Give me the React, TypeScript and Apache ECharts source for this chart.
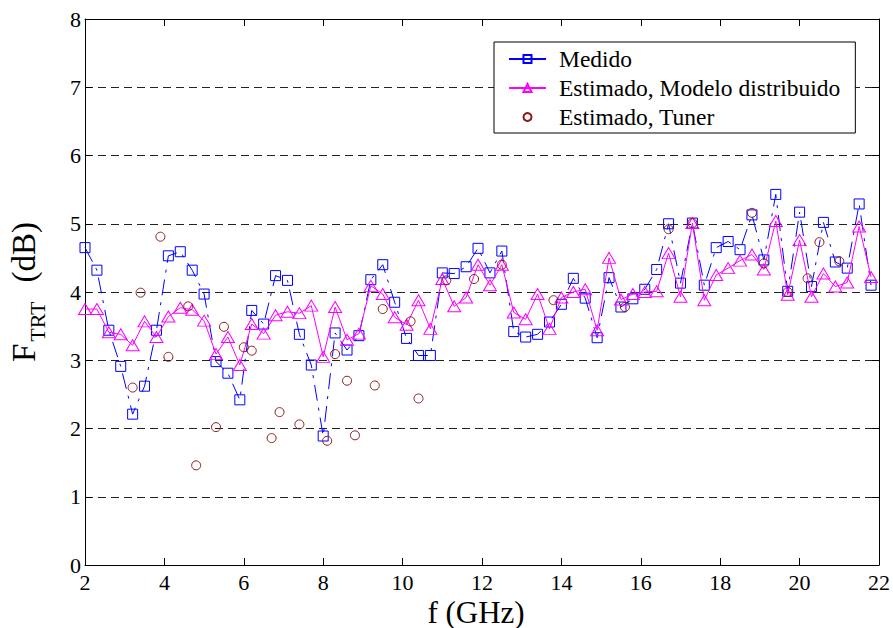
import React, { useEffect, useRef } from "react";
import * as echarts from "echarts";

// Frequency points (GHz) shared by the measured and distributed-model curves
const freqs = [
  2.0, 2.3, 2.6, 2.9, 3.2, 3.5, 3.8, 4.1, 4.4, 4.7,
  5.0, 5.3, 5.6, 5.9, 6.2, 6.5, 6.8, 7.1, 7.4, 7.7,
  8.0, 8.3, 8.6, 8.9, 9.2, 9.5, 9.8, 10.1, 10.4, 10.7,
  11.0, 11.3, 11.6, 11.9, 12.2, 12.5, 12.8, 13.1, 13.4, 13.7,
  14.0, 14.3, 14.6, 14.9, 15.2, 15.5, 15.8, 16.1, 16.4, 16.7,
  17.0, 17.3, 17.6, 17.9, 18.2, 18.5, 18.8, 19.1, 19.4, 19.7,
  20.0, 20.3, 20.6, 20.9, 21.2, 21.5, 21.8,
];

// Measured noise figure (dB)
const medido = [
  4.65, 4.32, 3.44, 2.91, 2.21, 2.62, 3.44, 4.53, 4.59, 4.32,
  3.97, 2.98, 2.81, 2.42, 3.73, 3.53, 4.24, 4.17, 3.38, 2.93,
  1.89, 3.40, 3.15, 3.36, 4.18, 4.40, 3.85, 3.32, 3.07, 3.07,
  4.28, 4.27, 4.37, 4.64, 4.28, 4.60, 3.42, 3.34, 3.38, 3.56,
  3.82, 4.20, 3.91, 3.33, 4.21, 3.78, 3.90, 4.04, 4.33, 5.00,
  4.13, 5.01, 4.10, 4.65, 4.74, 4.62, 5.13, 4.47, 5.43, 4.01,
  5.17, 4.08, 5.02, 4.44, 4.35, 5.29, 4.10,
];

// Estimated with the distributed model (dB)
const modelo = [
  3.75, 3.75, 3.41, 3.38, 3.22, 3.57, 3.34, 3.64, 3.77, 3.74,
  3.58, 3.09, 3.34, 2.93, 3.53, 3.39, 3.66, 3.71, 3.69, 3.80,
  3.05, 3.78, 3.30, 3.39, 4.09, 3.97, 3.63, 3.52, 3.88, 3.46,
  4.19, 3.79, 3.92, 4.40, 4.10, 4.40, 3.70, 3.60, 3.97, 3.46,
  3.92, 4.00, 4.04, 3.44, 4.50, 3.89, 3.97, 4.00, 4.01, 4.57,
  3.93, 5.01, 3.88, 4.25, 4.35, 4.46, 4.55, 4.33, 5.04, 3.96,
  4.76, 3.93, 4.27, 4.08, 4.14, 4.96, 4.22,
];

// Estimated with the tuner: frequencies (GHz) and values (dB)
const tunerFreqs = [
  3.2, 3.4, 3.9, 4.1, 4.6, 4.8, 5.3, 5.5, 6.0, 6.2,
  6.7, 6.9, 7.4, 8.1, 8.3, 8.6, 8.8, 9.3, 9.5, 10.2,
  10.4, 11.1, 11.8, 12.5, 13.8, 15.6, 16.7, 17.3, 18.8, 19.1,
  19.7, 20.2, 20.5, 21.0,
];
const tuner = [
  2.60, 3.99, 4.81, 3.05, 3.79, 1.46, 2.02, 3.49, 3.19, 3.14,
  1.86, 2.24, 2.06, 1.82, 3.09, 2.70, 1.90, 2.63, 3.75, 3.57,
  2.44, 4.17, 4.19, 4.40, 3.88, 3.78, 4.92, 5.01, 5.16, 4.42,
  4.00, 4.20, 4.73, 4.45,
];

const xTicks = { min: 2, max: 22, interval: 2 };
const yTicks = { min: 0, max: 8, interval: 1 };

const SERIF = "'Liberation Serif', 'Times New Roman', serif";

export default function App() {
  const ref = useRef<HTMLDivElement>(null);

  useEffect(() => {
    if (!ref.current) return;
    const chart = echarts.init(ref.current, null, { renderer: "svg" });

    const frameLine = { show: true, onZero: false, lineStyle: { color: "#000", width: 1 } };
    const frameTick = { show: true, inside: true, length: 7, lineStyle: { color: "#000", width: 1 } };

    chart.setOption({
      animation: false,
      backgroundColor: "#fff",
      textStyle: { fontFamily: SERIF, color: "#000" },
      grid: { left: 85, top: 19, right: 14, bottom: 63 },
      xAxis: [
        {
          type: "value",
          position: "bottom",
          ...xTicks,
          axisLine: frameLine,
          axisTick: frameTick,
          axisLabel: { color: "#000", fontFamily: SERIF, fontSize: 22, margin: 6 },
          splitLine: { show: false },
        },
        {
          type: "value",
          position: "top",
          ...xTicks,
          axisLine: frameLine,
          axisTick: frameTick,
          axisLabel: { show: false },
          splitLine: { show: false },
        },
      ],
      yAxis: [
        {
          type: "value",
          position: "left",
          ...yTicks,
          axisLine: frameLine,
          axisTick: frameTick,
          axisLabel: { color: "#000", fontFamily: SERIF, fontSize: 22, margin: 4 },
          splitLine: { show: true, lineStyle: { color: "#222", width: 1, type: [8, 5] } },
        },
        {
          type: "value",
          position: "right",
          ...yTicks,
          axisLine: frameLine,
          axisTick: frameTick,
          axisLabel: { show: false },
          splitLine: { show: false },
        },
      ],
      legend: {
        orient: "vertical",
        left: 494,
        top: 42,
        backgroundColor: "#fff",
        borderColor: "#000",
        borderWidth: 1,
        borderRadius: 0,
        padding: [5, 15, 4, 14],
        itemGap: 5,
        itemWidth: 37,
        itemHeight: 10,
        textStyle: {
          color: "#000",
          fontFamily: SERIF,
          fontSize: 23.5,
          lineHeight: 22,
          padding: [0, 0, 0, 8],
        },
        data: [
          { name: "Medido", lineStyle: { type: "solid" } },
          { name: "Estimado, Modelo distribuido" },
          { name: "Estimado, Tuner" },
        ],
      },
      graphic: [
        {
          type: "text",
          x: 24,
          y: 292,
          rotation: Math.PI / 2,
          style: {
            text: "{f|F}{s|TRT}{f|(dB)}",
            align: "center",
            verticalAlign: "middle",
            textAlign: "center",
            textVerticalAlign: "middle",
            fill: "#000",
            rich: {
              f: { fontFamily: SERIF, fontSize: 33, fill: "#000" },
              s: { fontFamily: SERIF, fontSize: 22, padding: [27, 19, 0, 2], fill: "#000" },
            },
          },
        },
        {
          type: "text",
          x: 476,
          y: 612,
          style: {
            text: "f (GHz)",
            align: "center",
            verticalAlign: "middle",
            textAlign: "center",
            textVerticalAlign: "middle",
            fill: "#000",
            fontFamily: SERIF,
            fontSize: 31,
          },
        },
      ],
      series: [
        {
          name: "Medido",
          type: "line",
          data: freqs.map((f, i) => [f, medido[i]]),
          symbol: "rect",
          symbolSize: 10,
          lineStyle: { color: "#0000ff", width: 1, type: [16, 7, 3, 7] },
          itemStyle: { color: "rgba(0,0,0,0)", borderColor: "#0000ff", borderWidth: 1 },
          z: 3,
        },
        {
          name: "Estimado, Modelo distribuido",
          type: "line",
          data: freqs.map((f, i) => [f, modelo[i]]),
          symbol: "triangle",
          symbolSize: [13, 11],
          lineStyle: { color: "#ff00ff", width: 1 },
          itemStyle: { color: "rgba(0,0,0,0)", borderColor: "#ff00ff", borderWidth: 1 },
          z: 4,
        },
        {
          name: "Estimado, Tuner",
          type: "line",
          data: tunerFreqs.map((f, i) => [f, tuner[i]]),
          symbol: "circle",
          symbolSize: 9,
          lineStyle: { opacity: 0, width: 0 },
          itemStyle: { color: "rgba(0,0,0,0)", borderColor: "#8b1a1a", borderWidth: 1 },
          z: 5,
        },
      ],
    });

    return () => chart.dispose();
  }, []);

  return (
    <div
      ref={ref}
      style={{ position: "absolute", left: 0, top: 0, width: 893, height: 628 }}
    />
  );
}
